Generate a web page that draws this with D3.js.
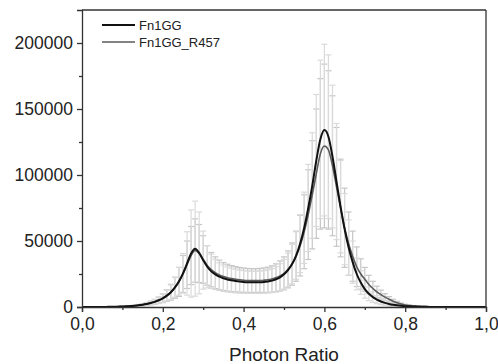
<!DOCTYPE html>
<html>
<head>
<meta charset="utf-8">
<script src="https://cdn.jsdelivr.net/npm/d3@7"></script>
<style>
  html, body { margin: 0; padding: 0; background: #fff; }
  svg { display: block; font-family: "Liberation Sans", Arial, sans-serif; }
</style>
</head>
<body>
<div id="chart"></div>
<script>
// photon ratio bins (0.00 .. 1.00, step 0.01)
const ratios = [
  0.00,0.01,0.02,0.03,0.04,0.05,0.06,0.07,0.08,0.09,
  0.10,0.11,0.12,0.13,0.14,0.15,0.16,0.17,0.18,0.19,
  0.20,0.21,0.22,0.23,0.24,0.25,0.26,0.27,0.28,0.29,
  0.30,0.31,0.32,0.33,0.34,0.35,0.36,0.37,0.38,0.39,
  0.40,0.41,0.42,0.43,0.44,0.45,0.46,0.47,0.48,0.49,
  0.50,0.51,0.52,0.53,0.54,0.55,0.56,0.57,0.58,0.59,
  0.60,0.61,0.62,0.63,0.64,0.65,0.66,0.67,0.68,0.69,
  0.70,0.71,0.72,0.73,0.74,0.75,0.76,0.77,0.78,0.79,
  0.80,0.81,0.82,0.83,0.84,0.85,0.86,0.87,0.88,0.89,
  0.90,0.91,0.92,0.93,0.94,0.95,0.96,0.97,0.98,0.99,1.00
];

const fn1gg = [
  0,0,0,0,0,50,80,120,180,260,
  380,520,720,980,1300,1750,2300,3000,3900,5100,
  6600,8600,11200,14800,19500,25500,33000,40500,44200,41000,
  35500,30500,27000,24700,23000,21800,20900,20200,19700,19300,
  19000,18800,18700,18700,18800,19000,19400,20000,21000,22500,
  24800,28000,32500,39000,48000,60000,75000,92000,111000,127000,
  134000,129000,114000,95000,76000,59000,45000,34000,25000,18500,
  13500,10000,7500,5600,4200,3100,2300,1700,1250,900,
  650,480,350,250,180,130,90,60,40,25,
  15,10,5,0,0,0,0,0,0,0,0
];
const fn1ggErr = [
  0,0,0,0,0,20,30,50,70,100,
  150,200,300,400,550,750,1000,1300,1700,2300,
  3000,4000,5500,7500,10500,15000,24000,33000,36000,31000,
  22000,16000,13000,11500,10500,10000,9500,9200,9000,8800,
  8600,8500,8400,8400,8500,8600,8800,9100,9600,10300,
  11300,12800,15000,18000,22000,27000,33000,40000,50000,60000,
  65000,62000,54000,44000,35000,27000,21000,16000,12000,9000,
  6800,5200,4000,3100,2400,1800,1400,1000,750,550,
  400,300,220,160,120,90,60,40,30,20,
  10,0,0,0,0,0,0,0,0,0,0
];

const r457 = [
  0,0,0,0,0,50,80,120,180,260,
  380,520,720,980,1300,1750,2300,3000,3900,5100,
  6600,8600,11200,14600,19000,25000,32000,39000,42800,40500,
  36000,31500,28300,26000,24300,23100,22200,21500,21000,20600,
  20300,20100,20000,20000,20100,20300,20600,21200,22100,23500,
  25500,28500,32500,38500,46500,57000,70000,85000,101000,116000,
  122000,119000,107000,91000,75000,60000,48000,38500,30500,25000,
  21000,17000,14000,11500,9400,7500,5900,4400,3200,2200,
  1500,1100,800,600,430,300,210,150,100,70,
  45,30,20,10,5,0,0,0,0,0,0
];
const r457Err = [
  0,0,0,0,0,20,30,50,70,100,
  150,220,320,450,600,800,1100,1400,1900,2500,
  3300,4400,6000,8000,11000,14000,18000,22000,24000,22000,
  18000,15000,13000,12000,11200,10600,10200,9900,9600,9400,
  9200,9100,9000,9000,9100,9300,9600,10000,10600,11400,
  12500,14000,16000,19000,23000,28000,34000,41000,49000,57000,
  62000,60000,53000,45000,37000,30000,24000,19000,15000,11500,
  9000,7000,5500,4300,3400,2600,2000,1500,1100,800,
  600,450,330,240,170,120,80,55,35,20,
  10,0,0,0,0,0,0,0,0,0,0
];

const xTicks = [0, 0.2, 0.4, 0.6, 0.8, 1.0];
const yTicks = [0, 50000, 100000, 150000, 200000];

const W = 498, H = 364;
const margin = { top: 10, right: 12, bottom: 57, left: 82 };
const width = W - margin.left - margin.right;
const height = H - margin.top - margin.bottom;

const svg = d3.select('#chart').append('svg')
  .attr('width', W).attr('height', H);
const g = svg.append('g').attr('transform', `translate(${margin.left},${margin.top})`);

const x = d3.scaleLinear().domain([0, 1]).range([0, width]);
const y = d3.scaleLinear().domain([0, 225000]).range([height, 0]);

const series = [
  { name: 'Fn1GG_R457', values: r457, err: r457Err, color: '#5a5a5a', width: 1.6, barColor: '#c6c6c6' },
  { name: 'Fn1GG', values: fn1gg, err: fn1ggErr, color: '#111', width: 2, barColor: '#dadada' }
];

// error bars
series.forEach(s => {
  const bars = g.append('g');
  ratios.forEach((r, i) => {
    if (s.err[i] <= 0) return;
    const cx = x(r);
    const top = y(s.values[i] + s.err[i]);
    const bot = y(Math.max(0, s.values[i] - s.err[i]));
    bars.append('line').attr('x1', cx).attr('x2', cx).attr('y1', top).attr('y2', bot)
      .attr('stroke', s.barColor).attr('stroke-width', 1.2);
    [top, bot].forEach(yy => bars.append('line')
      .attr('x1', cx - 3).attr('x2', cx + 3).attr('y1', yy).attr('y2', yy)
      .attr('stroke', s.barColor).attr('stroke-width', 1.2));
  });
});

// curves
const line = d3.line().x((d, i) => x(ratios[i])).y(d => y(d)).curve(d3.curveMonotoneX);
series.forEach(s => {
  g.append('path').datum(s.values)
    .attr('fill', 'none').attr('stroke', s.color).attr('stroke-width', s.width)
    .attr('d', line);
});

// frame
const axisColor = '#333';
g.append('line').attr('x1', 0).attr('x2', width).attr('y1', 0).attr('y2', 0)
  .attr('stroke', axisColor).attr('stroke-width', 1.3);
g.append('line').attr('x1', width).attr('x2', width).attr('y1', 0).attr('y2', height)
  .attr('stroke', axisColor).attr('stroke-width', 1.3);

// x axis
const xAxis = g.append('g').attr('transform', `translate(0,${height})`)
  .call(d3.axisBottom(x).tickValues(xTicks).tickSize(5).tickPadding(6)
    .tickFormat(d => d3.format('.1f')(d).replace('.', ',')));
g.append('g').attr('transform', `translate(0,${height})`)
  .call(d3.axisBottom(x).tickValues([0.1, 0.3, 0.5, 0.7, 0.9]).tickSize(3).tickFormat(''))
  .select('.domain').remove();

// y axis
const yAxis = g.append('g')
  .call(d3.axisLeft(y).tickValues(yTicks).tickSize(5).tickPadding(4).tickFormat(d3.format('d')));
g.append('g')
  .call(d3.axisLeft(y).tickValues([25000, 75000, 125000, 175000]).tickSize(3).tickFormat(''))
  .select('.domain').remove();

g.selectAll('.domain').attr('stroke', axisColor).attr('stroke-width', 1.3);
g.selectAll('.tick line').attr('stroke', axisColor).attr('stroke-width', 1.3);
g.selectAll('.tick text').attr('fill', '#222').style('font-size', '17.5px')
  .style('font-family', '"Liberation Sans", Arial, sans-serif');

// x label
svg.append('text').attr('x', margin.left + width / 2).attr('y', 361)
  .attr('text-anchor', 'middle').attr('fill', '#222')
  .style('font-size', '19px').text('Photon Ratio');

// legend
const legend = svg.append('g');
[{ s: series[1], yy: 25 }, { s: series[0], yy: 42 }].forEach(({ s, yy }) => {
  legend.append('line').attr('x1', 102).attr('x2', 135).attr('y1', yy).attr('y2', yy)
    .attr('stroke', s.color).attr('stroke-width', s.width);
  legend.append('text').attr('x', 139).attr('y', yy + 4.5).attr('fill', '#222')
    .style('font-size', '13px').text(s.name);
});
</script>
</body>
</html>
